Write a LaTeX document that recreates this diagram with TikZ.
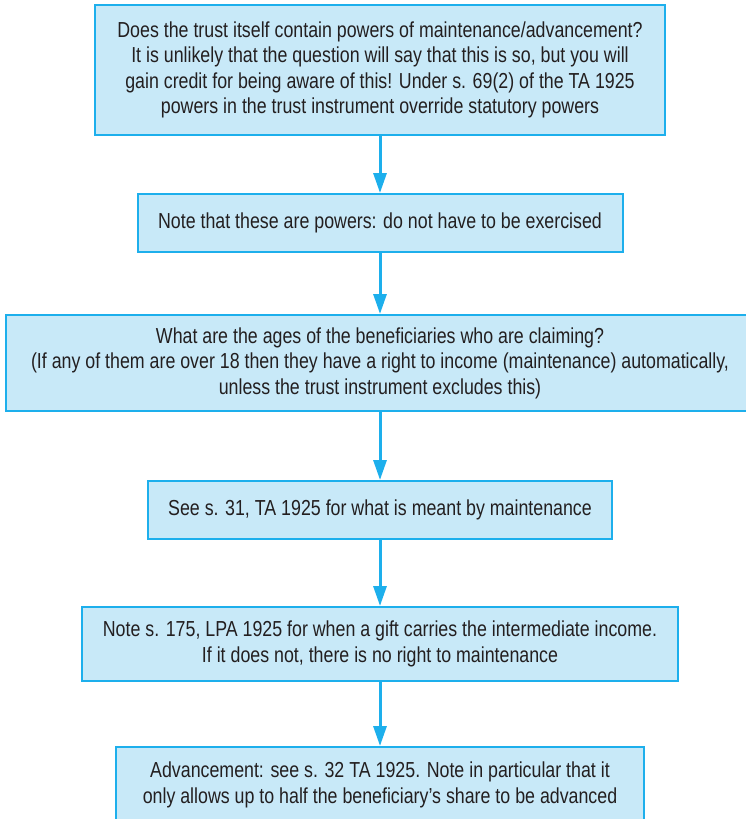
\documentclass[tikz,border=0pt]{standalone}
\usepackage{fontspec}
\setmainfont{Liberation Sans}[FakeStretch=0.82]
\usetikzlibrary{arrows.meta}
\definecolor{boxfill}{HTML}{C8E9F8}
\definecolor{boxline}{HTML}{1DAFEC}
\definecolor{txt}{HTML}{231F20}

\begin{document}
\begin{tikzpicture}[x=1pt, y=1pt, >={Triangle[width=13pt,length=20pt]},
  box/.style={draw=boxline, line width=2pt, fill=boxfill, text=txt, align=center, inner sep=0pt, font=\fontsize{21.7}{25.5}\selectfont},
  link/.style={->, draw=boxline, line width=3pt}]
\useasboundingbox (0,0) rectangle (746,-819);
\node[box, minimum width=570, minimum height=130] (powers) at (380,-70) {Does the trust itself contain powers of maintenance/advancement?\\It is unlikely that the question will say that this is so, but you will\\gain credit for being aware of this! Under s. 69(2) of the TA 1925\\powers in the trust instrument override statutory powers};
\node[box, minimum width=485, minimum height=58] (note) at (380,-223) {Note that these are powers: do not have to be exercised};
\node[box, minimum width=748, minimum height=96] (ages) at (380,-363) {What are the ages of the beneficiaries who are claiming?\\(If any of them are over 18 then they have a right to income (maintenance) automatically,\\unless the trust instrument excludes this)};
\node[box, minimum width=464, minimum height=58] (maint) at (380,-510) {See s. 31, TA 1925 for what is meant by maintenance};
\node[box, minimum width=596, minimum height=74] (lpa) at (380,-644) {Note s. 175, LPA 1925 for when a gift carries the intermediate income.\\If it does not, there is no right to maintenance};
\node[box, minimum width=528, minimum height=76] (adv) at (380,-785) {Advancement: see s. 32 TA 1925. Note in particular that it\\only allows up to half the beneficiary’s share to be advanced};
\draw[link] (powers) -- (note);
\draw[link] (note) -- (ages);
\draw[link] (ages) -- (maint);
\draw[link] (maint) -- (lpa);
\draw[link] (lpa) -- (adv);
\end{tikzpicture}
\end{document}
